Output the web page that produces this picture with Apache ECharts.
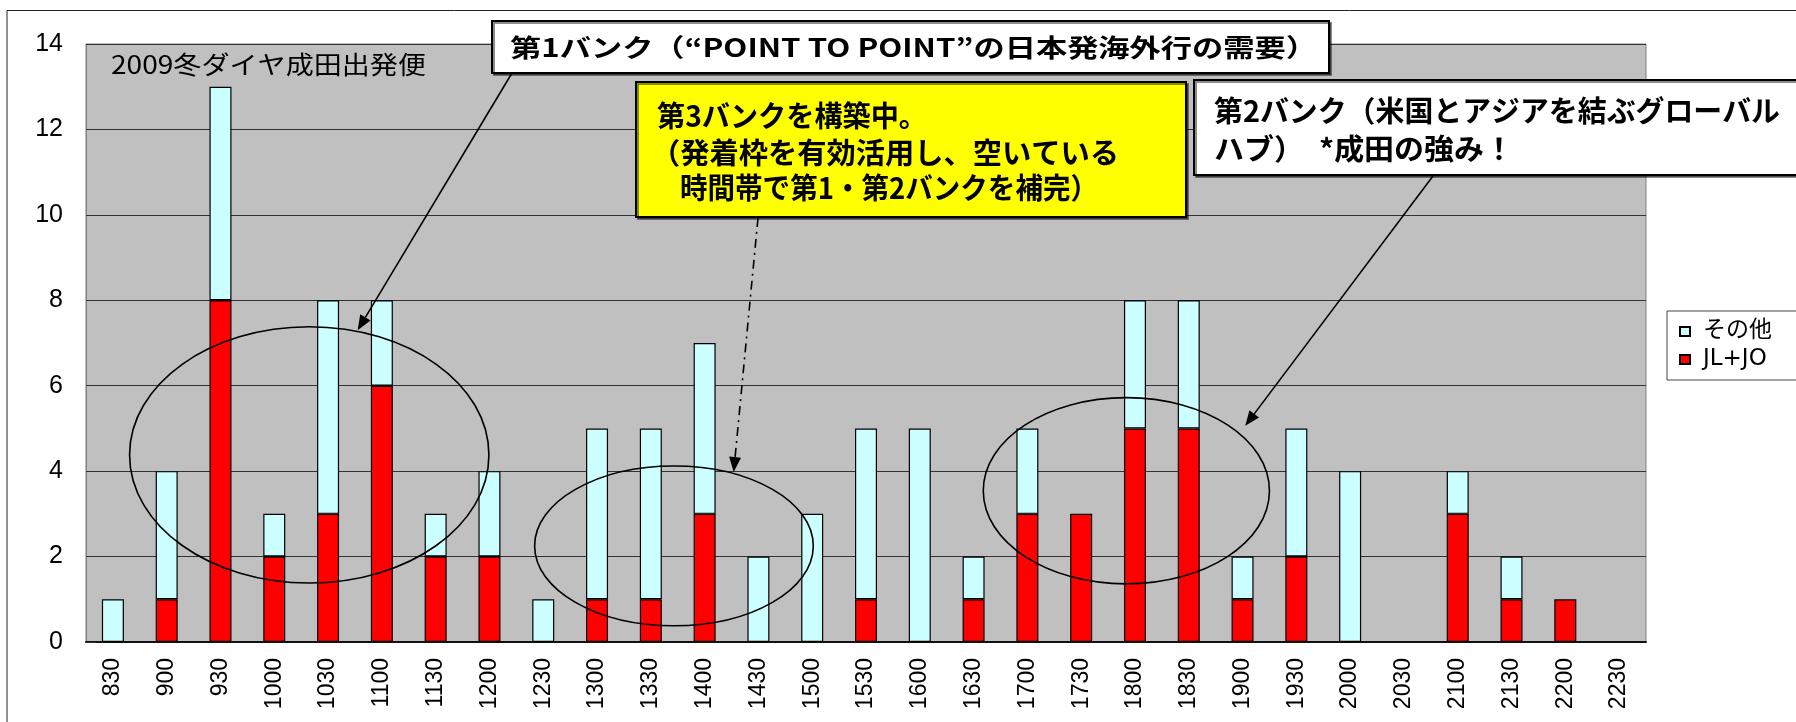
<!DOCTYPE html>
<html>
<head>
<meta charset="utf-8">
<script src="https://cdn.jsdelivr.net/npm/echarts@6/dist/echarts.min.js"></script>
<style>
  html, body { margin: 0; padding: 0; background: #fff; }
  #chart { width: 1796px; height: 722px; }
</style>
</head>
<body>
<div id="chart"></div>
<script>
// departure slots (hhmm)
const categories = ['830', '900', '930', '1000', '1030', '1100', '1130', '1200', '1230', '1300',
  '1330', '1400', '1430', '1500', '1530', '1600', '1630', '1700', '1730', '1800',
  '1830', '1900', '1930', '2000', '2030', '2100', '2130', '2200', '2230'];
const jlJo = [0, 1, 8, 2, 3, 6, 2, 2, 0, 1, 1, 3, 0, 0, 1, 0, 1, 3, 3, 5, 5, 1, 2, 0, 0, 3, 1, 1, 0];
const others = [1, 3, 5, 1, 5, 2, 1, 2, 1, 4, 4, 4, 2, 3, 4, 5, 1, 2, 0, 3, 3, 1, 3, 4, 0, 1, 1, 0, 0];

const CJK = '"Noto Sans CJK JP", sans-serif';
const LATIN = '"Liberation Sans", Arial, "Noto Sans CJK JP", sans-serif';
const WIDE = '"DejaVu Sans", "Noto Sans CJK JP", sans-serif';

const chart = echarts.init(document.getElementById('chart'), null, { renderer: 'canvas' });

chart.setOption({
  animation: false,
  backgroundColor: '#fff',
  grid: {
    left: 86, top: 44, width: 1560, height: 598,
    show: true, backgroundColor: '#C0C0C0', borderColor: '#808080', borderWidth: 1
  },
  legend: {
    orient: 'vertical',
    left: 1667, top: 311,
    data: ['その他', 'JL+JO'],
    itemWidth: 10, itemHeight: 9, itemGap: 3,
    padding: [8, 80, 8, 12],
    backgroundColor: '#fff', borderColor: '#444', borderWidth: 1,
    icon: 'rect',
    textStyle: { fontSize: 23, lineHeight: 25, color: '#000', fontFamily: WIDE, padding: [0, 0, 0, 8] }
  },
  xAxis: {
    type: 'category',
    data: categories,
    axisLine: { lineStyle: { color: '#111', width: 2 } },
    axisTick: { inside: true, length: 8, lineStyle: { color: '#333' } },
    axisLabel: { interval: 0, rotate: 90, margin: 16, fontSize: 23, color: '#000', fontFamily: LATIN },
    splitLine: { show: false }
  },
  yAxis: {
    type: 'value', min: 0, max: 14, interval: 2,
    axisLine: { show: true, lineStyle: { color: '#808080' } },
    axisTick: { show: true, inside: true, length: 10, lineStyle: { color: '#333' } },
    axisLabel: { margin: 23, fontSize: 25, color: '#000', fontFamily: LATIN },
    splitLine: { lineStyle: { color: '#333', width: 1 } }
  },
  series: [
    {
      name: 'JL+JO', type: 'bar', stack: 'all', barWidth: 22,
      data: jlJo.map(v => v === 0 ? null : v),
      itemStyle: { color: '#FF0000', borderColor: '#000', borderWidth: 1.2 }
    },
    {
      name: 'その他', type: 'bar', stack: 'all', barWidth: 22,
      data: others.map(v => v === 0 ? null : v),
      itemStyle: { color: '#CCFFFF', borderColor: '#000', borderWidth: 1.2 }
    }
  ]
});

// ---- annotations ----
const measureCtx = document.createElement('canvas').getContext('2d');
function fitText(text, x, y, width, size, weight) {
  const font = weight + ' ' + size + 'px ' + CJK;
  measureCtx.font = font;
  const sx = width / measureCtx.measureText(text).width;
  return {
    type: 'text', x: x, y: y, scaleX: sx, z: 12,
    style: { text: text, font: font, fill: '#000', align: 'left', verticalAlign: 'middle',
      textAlign: 'left', textVerticalAlign: 'middle' }
  };
}

function pt(ci, v) {
  const x0 = chart.convertToPixel({ xAxisIndex: 0 }, categories[0]);
  const x1 = chart.convertToPixel({ xAxisIndex: 0 }, categories[1]);
  return [x0 + (x1 - x0) * ci, chart.convertToPixel({ yAxisIndex: 0 }, v)];
}

function ellipse(ci, v, rCat, rVal) {
  const c = pt(ci, v);
  const step = pt(1, 0)[0] - pt(0, 0)[0];
  const unit = pt(0, 0)[1] - pt(0, 1)[1];
  return {
    type: 'ellipse', z: 11, silent: true,
    shape: { cx: c[0], cy: c[1], rx: rCat * step, ry: rVal * unit },
    style: { fill: null, stroke: '#000', lineWidth: 1.6 }
  };
}

function arrow(from, to, dash) {
  const ang = Math.atan2(to[1] - from[1], to[0] - from[0]);
  const len = 15, half = 6;
  const bx = to[0] - len * Math.cos(ang), by = to[1] - len * Math.sin(ang);
  const px = -Math.sin(ang) * half, py = Math.cos(ang) * half;
  return [
    { type: 'line', z: 11, shape: { x1: from[0], y1: from[1], x2: bx, y2: by },
      style: { stroke: '#000', lineWidth: 1.6, lineDash: dash || null } },
    { type: 'polygon', z: 11, shape: { points: [to, [bx + px, by + py], [bx - px, by - py]] },
      style: { fill: '#000' } }
  ];
}

function box(x, y, w, h, fill) {
  return {
    type: 'rect', z: 11, shape: { x: x, y: y, width: w, height: h },
    style: { fill: fill, stroke: '#000', lineWidth: 2,
      shadowColor: 'rgba(0,0,0,0.45)', shadowOffsetX: 2, shadowOffsetY: 2 }
  };
}

const graphics = [
  // outer frame
  { type: 'rect', z: 1, silent: true, shape: { x: 7, y: 10.5, width: 1820, height: 760 },
    style: { fill: null, stroke: '#222', lineWidth: 1 } },
  fitText('2009冬ダイヤ成田出発便', 111, 64, 315, 25, 'normal'),

  ellipse(3.65, 4.38, 3.34, 3.0),
  ellipse(10.43, 2.25, 2.59, 1.87),
  ellipse(18.84, 3.54, 2.66, 2.18),

  ...arrow([512, 73], pt(4.55, 7.3)),
  ...arrow([758, 218], pt(11.54, 3.98), [9, 5, 2, 5]),
  ...arrow([1433, 176], pt(21.05, 5.06)),

  box(492, 21, 837, 52, '#fff'),
  fitText('第1バンク（“POINT TO POINT”の日本発海外行の需要）', 510, 47, 807, 25, 'bold'),

  box(636, 82, 550, 135, '#FFFF00'),
  fitText('第3バンクを構築中。', 657, 116, 270, 29, 'bold'),
  fitText('（発着枠を有効活用し、空いている', 651, 153, 468, 29, 'bold'),
  fitText('時間帯で第1・第2バンクを補完）', 680, 188, 418, 29, 'bold'),

  box(1194, 80, 640, 95, '#fff'),
  fitText('第2バンク（米国とアジアを結ぶグローバル', 1214, 111, 566, 29, 'bold'),
  fitText('ハブ）　*成田の強み！', 1214, 149, 300, 29, 'bold')
];

chart.setOption({ graphic: { elements: graphics } });
</script>
</body>
</html>
